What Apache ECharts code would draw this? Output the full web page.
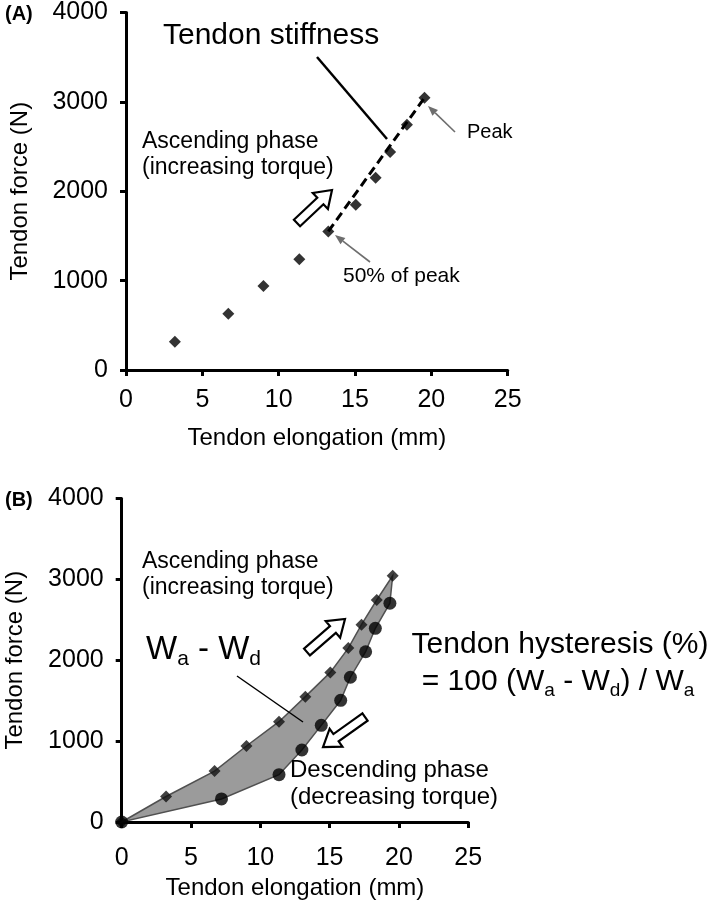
<!DOCTYPE html>
<html><head><meta charset="utf-8">
<script src="https://cdn.jsdelivr.net/npm/echarts@6/dist/echarts.min.js"></script>
<style>html,body{margin:0;padding:0;background:#fff}#c{width:709px;height:903px}</style>
</head><body><div id="c"></div>
<script>
// ---- data ----
const xTicks = [0, 5, 10, 15, 20, 25];
const yTicks = [0, 1000, 2000, 3000, 4000];
// ascending phase (diamonds), tendon elongation (mm) / force (N)
const ascX = [3.2, 6.7, 9.0, 11.35, 13.25, 15.05, 16.35, 17.3, 18.4, 19.55];
const ascY = [315, 630, 940, 1240, 1550, 1850, 2150, 2440, 2745, 3045];
// descending phase (circles), from just after peak back to zero
const descX = [19.35, 18.3, 17.6, 16.5, 15.8, 14.4, 13.0, 11.35, 7.2, 0];
const descY = [2705, 2395, 2105, 1790, 1505, 1195, 890, 585, 285, 0];
const originX = [0];
const originY = [0];
const halfPeakIndex = 4;   // 50% of peak
const peakIndex = 9;       // peak

const FONT = 'Liberation Sans, Arial, sans-serif';
const pairs = (xs, ys) => xs.map((x, i) => [x, ys[i]]);

const chart = echarts.init(document.getElementById('c'), null, {renderer: 'canvas'});

function axisCommon(extra) {
  return Object.assign({
    axisLine: {show: true, onZero: false, lineStyle: {color: '#000', width: 3}},
    axisTick: {show: true, length: 6, lineStyle: {color: '#000', width: 3}},
    splitLine: {show: false},
    axisLabel: {color: '#000', fontSize: 25, fontFamily: FONT, margin: 18, formatter: v => String(v)},
    nameLocation: 'middle',
    nameTextStyle: {color: '#000', fontSize: 24, fontFamily: FONT}
  }, extra);
}
const xMin = xTicks[0], xMax = xTicks[xTicks.length - 1], xInt = xTicks[1] - xTicks[0];
const yMin = yTicks[0], yMax = yTicks[yTicks.length - 1], yInt = yTicks[1] - yTicks[0];

// ---- annotation helpers (pixel space) ----
function blockArrow(x1, y1, x2, y2) {
  const dx = x2 - x1, dy = y2 - y1, L = Math.hypot(dx, dy);
  const ux = dx / L, uy = dy / L, nx = -uy, ny = ux;
  const w = 4.5, hw = 11, hl = 16;
  const kx = x2 - ux * hl, ky = y2 - uy * hl;
  const pts = [
    [x1 + nx * w, y1 + ny * w], [kx + nx * w, ky + ny * w], [kx + nx * hw, ky + ny * hw],
    [x2, y2],
    [kx - nx * hw, ky - ny * hw], [kx - nx * w, ky - ny * w], [x1 - nx * w, y1 - ny * w]
  ];
  return {type: 'polygon', shape: {points: pts}, style: {fill: '#fff', stroke: '#000', lineWidth: 2.2}, z: 100};
}
function thinArrow(x1, y1, x2, y2) {
  const dx = x2 - x1, dy = y2 - y1, L = Math.hypot(dx, dy);
  const ux = dx / L, uy = dy / L, nx = -uy, ny = ux;
  const hl = 10, hw = 4;
  const kx = x2 - ux * hl, ky = y2 - uy * hl;
  return [
    {type: 'line', shape: {x1: x1, y1: y1, x2: kx, y2: ky}, style: {stroke: '#6e6e6e', lineWidth: 1.6}, z: 100},
    {type: 'polygon', shape: {points: [[x2, y2], [kx + nx * hw, ky + ny * hw], [kx - nx * hw, ky - ny * hw]]}, style: {fill: '#6e6e6e'}, z: 100}
  ];
}
function txt(x, y, text, size, extra) {
  return {type: 'text', z: 100, style: Object.assign({
    x: x, y: y, text: text, fill: '#000', font: size + 'px ' + FONT,
    textAlign: 'left', textVerticalAlign: 'middle'
  }, extra || {})};
}
function subRich(main, sub, shift) {
  return {
    m: {fontSize: main, fontFamily: FONT, lineHeight: main + 6, color: '#000'},
    s: {fontSize: sub, fontFamily: FONT, lineHeight: sub, padding: [shift, 0, 0, 0], verticalAlign: 'bottom', color: '#000'}
  };
}

const graphics = [
  txt(5, 14, '(A)', 20, {font: 'bold 20px ' + FONT}),
  txt(5, 500, '(B)', 20, {font: 'bold 20px ' + FONT}),
  txt(163, 36, 'Tendon stiffness', 30),
  {type: 'line', shape: {x1: 317, y1: 57, x2: 387, y2: 139}, style: {stroke: '#000', lineWidth: 2.5}, z: 100},
  txt(142, 155, 'Ascending phase\n(increasing torque)', 23, {lineHeight: 26}),
  txt(467, 132, 'Peak', 20),
  txt(343, 276, '50% of peak', 21),
  ...thinArrow(455, 132, 428, 106),
  ...thinArrow(370, 262, 335, 235),
  blockArrow(297, 223, 332, 190),
  // panel B
  txt(142, 575, 'Ascending phase\n(increasing torque)', 23, {lineHeight: 26}),
  {type: 'text', z: 100, style: {x: 146, y: 650, text: '{m|W}{s|a}{m| - W}{s|d}', rich: subRich(33, 21, 16), textAlign: 'left', textVerticalAlign: 'middle'}},
  {type: 'line', shape: {x1: 237, y1: 676, x2: 303, y2: 722}, style: {stroke: '#000', lineWidth: 1.5}, z: 100},
  txt(560, 645, 'Tendon hysteresis (%)', 30, {textAlign: 'center'}),
  {type: 'text', z: 100, style: {x: 558, y: 682, text: '{m|= 100 (W}{s|a}{m| - W}{s|d}{m|) / W}{s|a}', rich: subRich(30, 19, 15), textAlign: 'center', textVerticalAlign: 'middle'}},
  txt(290, 784, 'Descending phase\n(decreasing torque)', 24, {lineHeight: 27}),
  blockArrow(307, 652, 345, 619),
  blockArrow(365, 717, 323, 747)
];

const option = {
  animation: false,
  backgroundColor: '#fff',
  grid: [
    {left: 121.7, top: 12, width: 386, height: 358},
    {left: 121.7, top: 498.5, width: 346.5, height: 323.5}
  ],
  xAxis: [
    axisCommon({gridIndex: 0, type: 'value', min: xMin, max: xMax, interval: xInt, name: 'Tendon elongation (mm)', nameGap: 56}),
    axisCommon({gridIndex: 1, type: 'value', min: xMin, max: xMax, interval: xInt, name: 'Tendon elongation (mm)', nameGap: 54,
      axisLabel: {color: '#000', fontSize: 25, fontFamily: FONT, margin: 24, formatter: v => String(v)}})
  ],
  yAxis: [
    axisCommon({gridIndex: 0, type: 'value', min: yMin, max: yMax, interval: yInt, name: 'Tendon force (N)', nameGap: 94}),
    axisCommon({gridIndex: 1, type: 'value', min: yMin, max: yMax, interval: yInt, name: 'Tendon force (N)', nameGap: 94})
  ],
  series: [
    {
      type: 'line', xAxisIndex: 0, yAxisIndex: 0, symbol: 'none', z: 3,
      data: [[ascX[halfPeakIndex], ascY[halfPeakIndex]], [ascX[peakIndex], ascY[peakIndex]]],
      lineStyle: {color: '#000', width: 3, type: [9, 5]}
    },
    {
      type: 'scatter', xAxisIndex: 0, yAxisIndex: 0, symbol: 'diamond', symbolSize: 12, z: 4,
      itemStyle: {color: '#000'}, data: pairs(ascX, ascY)
    },
    {
      type: 'custom', xAxisIndex: 1, yAxisIndex: 1, z: 2,
      data: [[0, 0]],
      renderItem: function (params, api) {
        const pts = [];
        pairs(originX, originY).concat(pairs(ascX, ascY), pairs(descX, descY)).forEach(p => pts.push(api.coord(p)));
        return {type: 'polygon', shape: {points: pts}, style: {fill: '#9b9b9b', stroke: '#505050', lineWidth: 1.5}};
      }
    },
    {
      type: 'scatter', xAxisIndex: 1, yAxisIndex: 1, symbol: 'diamond', symbolSize: 12, z: 4,
      itemStyle: {color: '#111'}, data: pairs(originX, originY).concat(pairs(ascX, ascY))
    },
    {
      type: 'scatter', xAxisIndex: 1, yAxisIndex: 1, symbol: 'circle', symbolSize: 13, z: 4,
      itemStyle: {color: '#000'}, data: pairs(descX, descY)
    }
  ],
  graphic: graphics
};
chart.setOption(option);
</script>
</body></html>
